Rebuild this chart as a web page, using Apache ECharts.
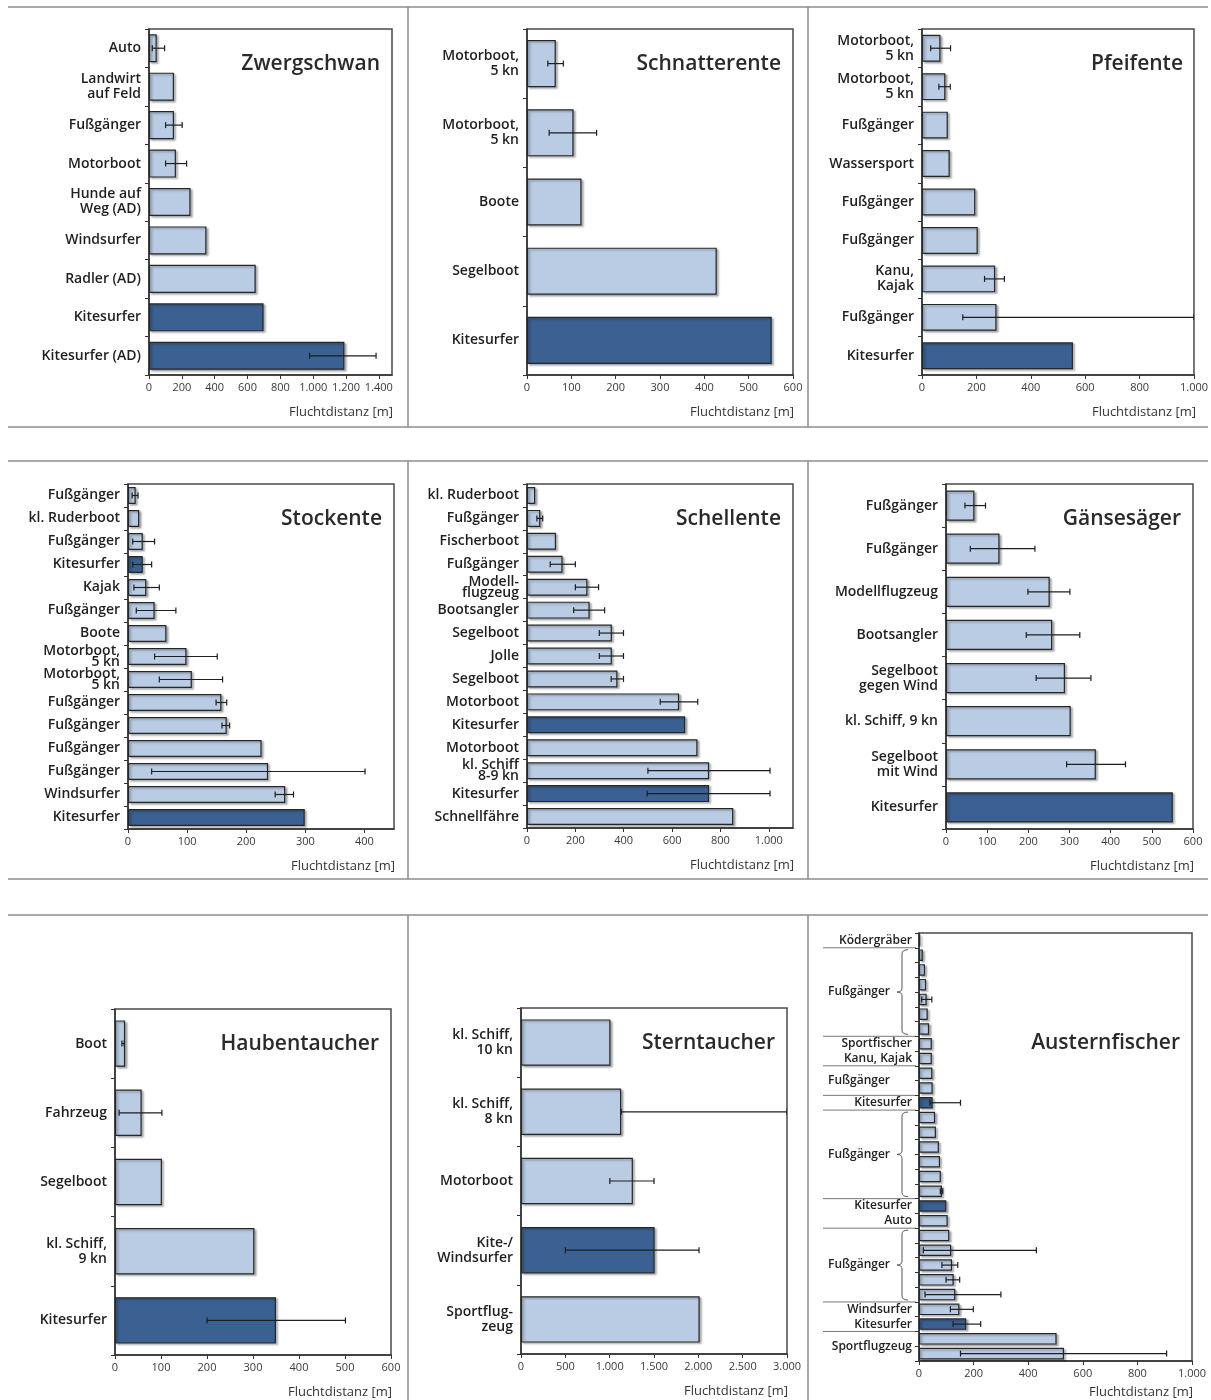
<!DOCTYPE html>
<html>
<head>
<meta charset="utf-8">
<script src="https://cdn.jsdelivr.net/npm/echarts@6/dist/echarts.min.js"></script>
<style>
html, body { margin: 0; padding: 0; background: #fff; }
#chart { width: 1211px; height: 1400px; }
</style>
</head>
<body>
<div id="chart"></div>
<script>
// Zwergschwan
const zwergCats = ['Auto', 'Landwirt\nauf Feld', 'Fußgänger', 'Motorboot', 'Hunde auf\nWeg (AD)', 'Windsurfer', 'Radler (AD)', 'Kitesurfer', 'Kitesurfer (AD)']
const zwergVals = [47, 152, 152, 164, 253, 350, 650, 698, 1190]
const zwergLo = [20, null, 101, 101, null, null, null, null, 978]
const zwergHi = [95, null, 202, 229, null, null, null, null, 1383]
const zwergDark = [7, 8]

// Schnatterente
const schnatCats = ['Motorboot,\n5 kn', 'Motorboot,\n5 kn', 'Boote', 'Segelboot', 'Kitesurfer']
const schnatVals = [65, 105, 123, 428, 552]
const schnatLo = [47, 50, null, null, null]
const schnatHi = [82, 157, null, null, null]
const schnatDark = [4]

// Pfeifente
const pfeifCats = ['Motorboot,\n5 kn', 'Motorboot,\n5 kn', 'Fußgänger', 'Wassersport', 'Fußgänger', 'Fußgänger', 'Kanu,\nKajak', 'Fußgänger', 'Kitesurfer']
const pfeifVals = [68, 86, 95, 102, 196, 205, 269, 274, 555]
const pfeifLo = [32, 62, null, null, null, null, 230, 150, null]
const pfeifHi = [105, 104, null, null, null, null, 303, 1000, null]
const pfeifDark = [8]

// Stockente
const stockCats = ['Fußgänger', 'kl. Ruderboot', 'Fußgänger', 'Kitesurfer', 'Kajak', 'Fußgänger', 'Boote', 'Motorboot,\n5 kn', 'Motorboot,\n5 kn', 'Fußgänger', 'Fußgänger', 'Fußgänger', 'Fußgänger', 'Windsurfer', 'Kitesurfer']
const stockVals = [13, 19, 25, 25, 31, 45, 65, 99, 108, 158, 167, 226, 237, 266, 299]
const stockLo = [7, null, 8, 8, 10, 14, null, 45, 53, 149, 159, null, 40, 249, null]
const stockHi = [17, null, 45, 40, 53, 81, null, 151, 160, 167, 172, null, 401, 280, null]
const stockDark = [3, 14]

// Schellente
const schellCats = ['kl. Ruderboot', 'Fußgänger', 'Fischerboot', 'Fußgänger', 'Modell-\nflugzeug', 'Bootsangler', 'Segelboot', 'Jolle', 'Segelboot', 'Motorboot', 'Kitesurfer', 'Motorboot', 'kl. Schiff\n8-9 kn', 'Kitesurfer', 'Schnellfähre']
const schellVals = [34, 55, 120, 147, 250, 259, 351, 351, 374, 629, 654, 705, 753, 753, 853]
const schellLo = [null, 41, null, 96, 200, 193, 299, 299, 348, 551, null, null, 500, 497, null]
const schellHi = [null, 65, null, 200, 296, 321, 399, 399, 399, 706, null, null, 1005, 1005, null]
const schellDark = [10, 13]

// Gänsesäger
const gansCats = ['Fußgänger', 'Fußgänger', 'Modellflugzeug', 'Bootsangler', 'Segelboot\ngegen Wind', 'kl. Schiff, 9 kn', 'Segelboot\nmit Wind', 'Kitesurfer']
const gansVals = [69, 130, 252, 258, 289, 303, 364, 551]
const gansLo = [46, 59, 199, 195, 219, null, 293, null]
const gansHi = [96, 216, 301, 325, 352, null, 436, null]
const gansDark = [7]

// Haubentaucher
const haubCats = ['Boot', 'Fahrzeug', 'Segelboot', 'kl. Schiff,\n9 kn', 'Kitesurfer']
const haubVals = [22, 58, 102, 303, 350]
const haubLo = [15, 9, null, null, 200]
const haubHi = [20, 102, null, null, 501]
const haubDark = [4]

// Sterntaucher
const sternCats = ['kl. Schiff,\n10 kn', 'kl. Schiff,\n8 kn', 'Motorboot', 'Kite-/\nWindsurfer', 'Sportflug-\nzeug']
const sternVals = [1009, 1130, 1262, 1507, 2015]
const sternLo = [null, 1130, 1002, 501, null]
const sternHi = [null, 3000, 1500, 2008, null]
const sternDark = [3]

// Austernfischer
const austernCats = ['Ködergräber', 'Fußgänger', 'Fußgänger', 'Fußgänger', 'Fußgänger', 'Fußgänger', 'Fußgänger', 'Sportfischer', 'Kanu, Kajak', 'Fußgänger', 'Fußgänger', 'Kitesurfer', 'Fußgänger', 'Fußgänger', 'Fußgänger', 'Fußgänger', 'Fußgänger', 'Fußgänger', 'Kitesurfer', 'Auto', 'Fußgänger', 'Fußgänger', 'Fußgänger', 'Fußgänger', 'Fußgänger', 'Windsurfer', 'Kitesurfer', 'Sportflugzeug', 'Sportflugzeug']
const austernVals = [5, 14, 22, 26, 28, 32, 37, 47, 47, 49, 50, 50, 59, 62, 73, 77, 80, 84, 100, 105, 111, 118, 121, 127, 133, 148, 173, 504, 531]
const austernLo = [null, null, null, null, 10, null, null, null, null, null, null, 40, null, null, null, null, null, 78, null, null, null, 16, 84, 99, 22, 115, 125, null, 152]
const austernHi = [null, null, null, null, 47, null, null, null, null, null, null, 152, null, null, null, null, null, 87, null, null, null, 430, 142, 149, 300, 199, 226, null, 907]
const austernDark = [11, 18, 26]
// group labels: [text, first bar, last bar]
const austernLabels = [['Ködergräber', 0, 0], ['Fußgänger', 1, 6], ['Sportfischer', 7, 7], ['Kanu, Kajak', 8, 8], ['Fußgänger', 9, 10], ['Kitesurfer', 11, 11], ['Fußgänger', 12, 17], ['Kitesurfer', 18, 18], ['Auto', 19, 19], ['Fußgänger', 20, 24], ['Windsurfer', 25, 25], ['Kitesurfer', 26, 26], ['Sportflugzeug', 27, 28]]
const austernIndented = [1, 4, 6, 9]
const austernBraces = [[1, 6], [12, 17], [20, 24]]
const austernSeparators = [0, 6, 8, 10, 11, 17, 19, 24, 26]

const LIGHT = '#b9cce4'
const DARK = '#3b6192'
const FONT = '"Open Sans", "Noto Sans", sans-serif'

const panels = [
    { title: 'Zwergschwan', cats: zwergCats, vals: zwergVals, lo: zwergLo, hi: zwergHi, dark: zwergDark, max: 1480, interval: 200, box: [149, 29, 243, 346], gap: '27%' },
    { title: 'Schnatterente', cats: schnatCats, vals: schnatVals, lo: schnatLo, hi: schnatHi, dark: schnatDark, max: 600, interval: 100, box: [527, 29, 266, 346], gap: '32%' },
    { title: 'Pfeifente', cats: pfeifCats, vals: pfeifVals, lo: pfeifLo, hi: pfeifHi, dark: pfeifDark, max: 1000, interval: 200, box: [922, 29, 273, 346], gap: '30%' },
    { title: 'Stockente', cats: stockCats, vals: stockVals, lo: stockLo, hi: stockHi, dark: stockDark, max: 450, interval: 100, box: [128, 484, 266, 345], gap: '26%', lineHeight: 11 },
    { title: 'Schellente', cats: schellCats, vals: schellVals, lo: schellLo, hi: schellHi, dark: schellDark, max: 1100, interval: 200, box: [527, 484, 266, 344], gap: '26%', lineHeight: 11 },
    { title: 'Gänsesäger', cats: gansCats, vals: gansVals, lo: gansLo, hi: gansHi, dark: gansDark, max: 600, interval: 100, box: [946, 484, 247, 345], gap: '30%' },
    { title: 'Haubentaucher', cats: haubCats, vals: haubVals, lo: haubLo, hi: haubHi, dark: haubDark, max: 600, interval: 100, box: [115, 1009, 276, 346], gap: '33%' },
    { title: 'Sterntaucher', cats: sternCats, vals: sternVals, lo: sternLo, hi: sternHi, dark: sternDark, max: 3000, interval: 500, box: [521, 1008, 266, 346], gap: '33%' },
    { title: 'Austernfischer', cats: austernCats, vals: austernVals, lo: austernLo, hi: austernHi, dark: austernDark, max: 1000, interval: 200, box: [919, 933, 273, 428], gap: '22%', hideLabels: true, titleY: 110, nameDy: 31 }
]

const fmt = v => String(v).replace(/\B(?=(\d{3})+(?!\d))/g, '.')

function errorRender(params, api) {
    const idx = api.value(0)
    const a = api.coord([api.value(1), idx])
    const b = api.coord([api.value(2), idx])
    const cap = 3
    const st = { stroke: '#1e1e1e', lineWidth: 1.2 }
    return {
        type: 'group',
        children: [
            { type: 'line', shape: { x1: a[0], y1: a[1], x2: b[0], y2: b[1] }, style: st },
            { type: 'line', shape: { x1: a[0], y1: a[1] - cap, x2: a[0], y2: a[1] + cap }, style: st },
            { type: 'line', shape: { x1: b[0], y1: b[1] - cap, x2: b[0], y2: b[1] + cap }, style: st }
        ]
    }
}

const grid = []
const xAxis = []
const yAxis = []
const series = []
const staticGraphic = []

panels.forEach((p, k) => {
    const [l, t, w, h] = p.box
    grid.push({ left: l, top: t, width: w, height: h, show: true, borderColor: '#4a4a4a', borderWidth: 1.5, backgroundColor: '#fff' })
    xAxis.push({
        type: 'value', gridIndex: k, min: 0, max: p.max, interval: p.interval,
        axisLine: { show: true, lineStyle: { color: '#333', width: 1.5 } },
        axisTick: { show: true, length: 4, lineStyle: { color: '#333' } },
        splitLine: { show: false },
        axisLabel: { showMaxLabel: p.max % p.interval === 0, formatter: fmt, color: '#3a3a3a', fontSize: 11, fontFamily: FONT, margin: 7 }
    })
    yAxis.push({
        type: 'category', gridIndex: k, data: p.cats, inverse: true,
        axisLine: { show: true, lineStyle: { color: '#333', width: 1.5 } },
        axisTick: { show: true, length: 4, lineStyle: { color: '#333' } },
        axisLabel: {
            show: !p.hideLabels, interval: 0, color: '#1f1f1f', fontSize: 14, fontWeight: 600,
            fontFamily: FONT, margin: 8, lineHeight: p.lineHeight || 15, align: 'right'
        }
    })
    series.push({
        type: 'bar', xAxisIndex: k, yAxisIndex: k, barCategoryGap: p.gap,
        data: p.vals.map((v, i) => ({
            value: v,
            itemStyle: { color: p.dark.includes(i) ? DARK : LIGHT }
        })),
        itemStyle: { borderColor: '#262626', borderWidth: 1.2, shadowColor: 'rgba(0,0,0,0.3)', shadowBlur: 2, shadowOffsetX: 2, shadowOffsetY: 1.5 },
        silent: true
    })
    const errData = []
    p.lo.forEach((lo, i) => { if (lo !== null) errData.push([i, lo, p.hi[i]]) })
    series.push({
        type: 'custom', xAxisIndex: k, yAxisIndex: k, clip: true, silent: true,
        renderItem: errorRender, encode: { x: [1, 2], y: 0 }, data: errData, z: 5
    })
    staticGraphic.push({
        type: 'text', z: 10,
        style: { text: p.title, x: l + w - 12, y: t + (p.titleY || 35), align: 'right', verticalAlign: 'middle', fontSize: 21, fontWeight: 600, fontFamily: FONT, fill: '#2a2a2a' }
    })
    staticGraphic.push({
        type: 'text', z: 10,
        style: { text: 'Fluchtdistanz [m]', x: l + w + 1, y: t + h + (p.nameDy || 37), align: 'right', verticalAlign: 'middle', fontSize: 13, fontFamily: FONT, fill: '#333' }
    })
})

// panel frame lines
const frameColor = '#8c8c8c'
const hLines = [7, 427, 461, 879, 915]
hLines.forEach(y => staticGraphic.push({ type: 'line', shape: { x1: 8, y1: y, x2: 1208, y2: y }, style: { stroke: frameColor, lineWidth: 1.5 } }))
const vSpans = [[7, 427], [461, 879], [915, 1400]]
vSpans.forEach(([a, b]) => {
    [408, 808].forEach(x => staticGraphic.push({ type: 'line', shape: { x1: x, y1: a, x2: x, y2: b }, style: { stroke: frameColor, lineWidth: 1.5 } }))
})

const chart = echarts.init(document.getElementById('chart'), null, { renderer: 'canvas' })
chart.setOption({ backgroundColor: '#fff', animation: false, grid, xAxis, yAxis, series })

// Austernfischer group labels, separators and braces placed through the category axis
const yc = i => chart.convertToPixel({ yAxisIndex: 8 }, i)
const bound = i => (yc(i) + yc(i + 1)) / 2
const half = (yc(1) - yc(0)) / 2
const austernGraphic = []
austernLabels.forEach(([text, a, b], j) => {
    austernGraphic.push({
        type: 'text', z: 10,
        style: { text, x: austernIndented.includes(j) ? 890 : 912, y: (yc(a) + yc(b)) / 2, align: 'right', verticalAlign: 'middle', fontSize: 12, fontWeight: 600, fontFamily: FONT, fill: '#222' }
    })
})
austernSeparators.forEach(i => {
    const y = bound(i)
    austernGraphic.push({ type: 'line', shape: { x1: 823, y1: y, x2: 916, y2: y }, style: { stroke: '#777', lineWidth: 1 } })
})
const braceStyle = { stroke: '#555', lineWidth: 1, fill: null }
austernBraces.forEach(([a, b]) => {
    const top = yc(a) - half + 2
    const bot = yc(b) + half - 2
    const mid = (top + bot) / 2
    const xr = 908, xm = 902, xt = 897, r = 4
    austernGraphic.push(
        { type: 'bezierCurve', shape: { x1: xr, y1: top, x2: xm, y2: top + r, cpx1: xm, cpy1: top }, style: braceStyle },
        { type: 'line', shape: { x1: xm, y1: top + r, x2: xm, y2: mid - r }, style: braceStyle },
        { type: 'bezierCurve', shape: { x1: xm, y1: mid - r, x2: xt, y2: mid, cpx1: xm, cpy1: mid }, style: braceStyle },
        { type: 'bezierCurve', shape: { x1: xt, y1: mid, x2: xm, y2: mid + r, cpx1: xm, cpy1: mid }, style: braceStyle },
        { type: 'line', shape: { x1: xm, y1: mid + r, x2: xm, y2: bot - r }, style: braceStyle },
        { type: 'bezierCurve', shape: { x1: xm, y1: bot - r, x2: xr, y2: bot, cpx1: xm, cpy1: bot }, style: braceStyle }
    )
})

chart.setOption({ graphic: staticGraphic.concat(austernGraphic) })
</script>
</body>
</html>
